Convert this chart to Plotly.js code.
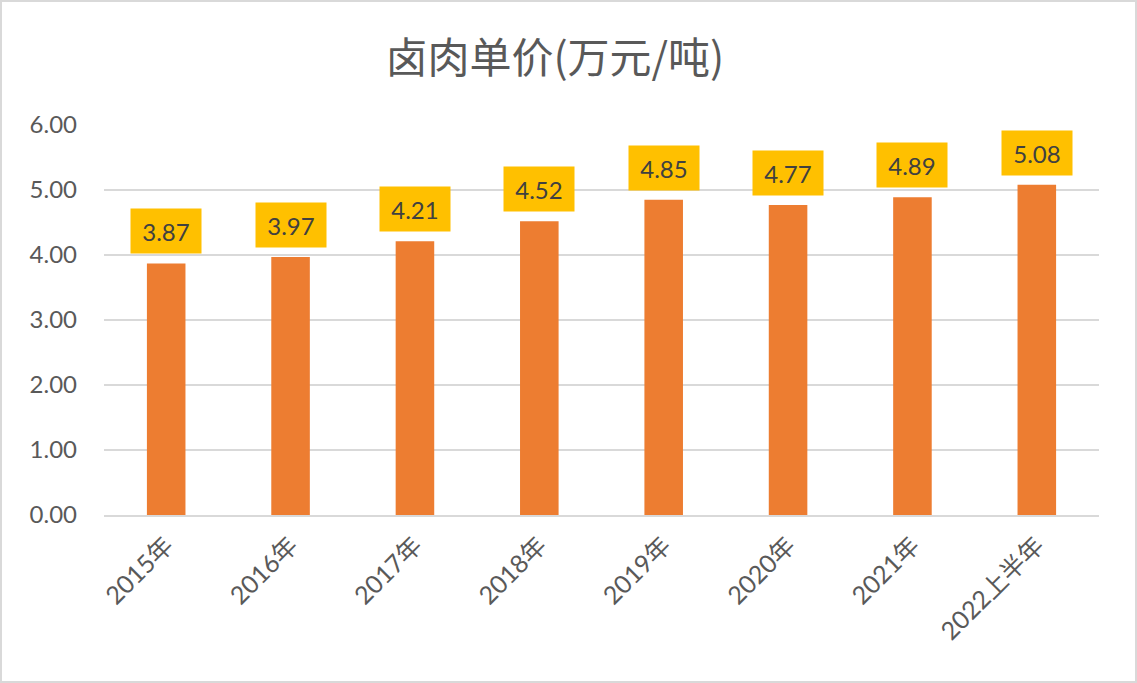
<!DOCTYPE html>
<html>
<head>
<meta charset="utf-8">
<script src="https://cdn.plot.ly/plotly-3.0.1.min.js"></script>
<style>
  html, body { margin: 0; padding: 0; background: #ffffff; }
  #chart { width: 1137px; height: 683px; }
</style>
</head>
<body>
<div id="chart"></div>
<script>
const categories = ['2015年', '2016年', '2017年', '2018年', '2019年', '2020年', '2021年', '2022上半年'];
const unitPrice = [3.87, 3.97, 4.21, 4.52, 4.85, 4.77, 4.89, 5.08];
const yTickValues = [0, 1, 2, 3, 4, 5, 6];
const yTickLabels = ['0.00', '1.00', '2.00', '3.00', '4.00', '5.00', '6.00'];
const chartTitle = '卤肉单价(万元/吨)';

const FONT = 'Lato, "Noto Sans CJK SC", sans-serif';

const trace = {
  type: 'bar',
  x: categories,
  y: unitPrice,
  marker: { color: '#ED7D31', line: { width: 0 } },
  hoverinfo: 'x+y'
};

const annotations = categories.map((c, i) => ({
  x: c,
  y: unitPrice[i],
  xref: 'x',
  yref: 'y',
  text: unitPrice[i].toFixed(2),
  showarrow: false,
  yanchor: 'bottom',
  yshift: 9,
  width: 70,
  height: 44,
  borderpad: 0,
  bgcolor: '#FFC000',
  font: { family: FONT, size: 24, color: '#404040' }
}));

const layout = {
  width: 1137,
  height: 683,
  margin: { l: 104, r: 38, t: 125, b: 168 },
  paper_bgcolor: '#ffffff',
  plot_bgcolor: '#ffffff',
  showlegend: false,
  bargap: 0.69,
  title: {
    text: chartTitle,
    x: 0.488,
    xanchor: 'center',
    y: 0.914,
    yanchor: 'middle',
    font: { family: '"Noto Sans CJK SC", sans-serif', size: 42, color: '#595959' }
  },
  xaxis: {
    type: 'category',
    tickangle: -45,
    tickfont: { family: FONT, size: 25, color: '#595959' },
    showgrid: false,
    showline: true,
    linecolor: '#D9D9D9',
    linewidth: 2,
    ticks: '',
    ticklabelstandoff: 4,
    automargin: false
  },
  yaxis: {
    range: [0, 6],
    tickvals: yTickValues,
    ticktext: yTickLabels,
    tickfont: { family: FONT, size: 24, color: '#595959' },
    showgrid: true,
    gridcolor: '#D9D9D9',
    gridwidth: 2,
    zeroline: false,
    showline: false,
    ticks: '',
    ticklabelstandoff: 26,
    automargin: false
  },
  annotations: annotations,
  shapes: [{
    type: 'rect',
    xref: 'paper', yref: 'paper',
    x0: (1 - 104) / 995, x1: (1136 - 104) / 995,
    y0: (515 - 682) / 390, y1: (515 - 1) / 390,
    line: { color: '#D9D9D9', width: 2 },
    fillcolor: 'rgba(0,0,0,0)',
    layer: 'below'
  }]
};

Plotly.newPlot('chart', [trace], layout, { displayModeBar: false, staticPlot: true });
</script>
</body>
</html>
